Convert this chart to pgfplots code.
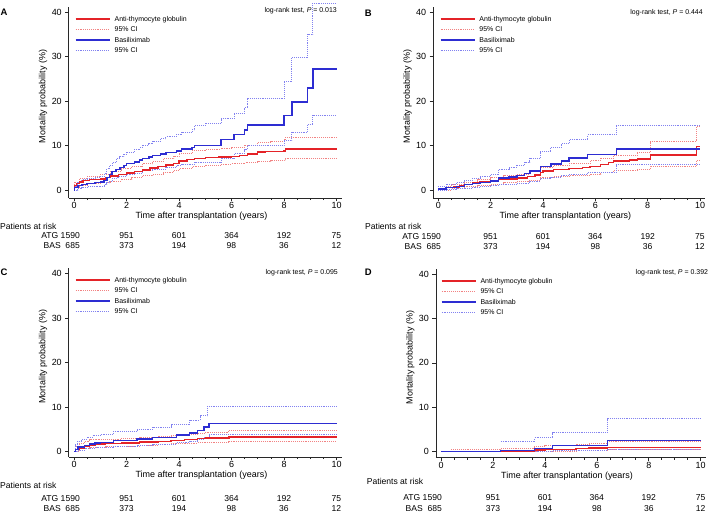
\documentclass[border=0pt]{standalone}
\usepackage{pgfplots}
\pgfplotsset{compat=1.18}
\usepackage{fontspec}
\setmainfont{Liberation Sans}
\definecolor{atg}{RGB}{228,35,40}
\definecolor{atgci}{RGB}{242,130,130}
\definecolor{bas}{RGB}{45,45,210}
\definecolor{basci}{RGB}{130,130,240}
\definecolor{axc}{RGB}{40,40,40}
\newcommand\fs{\fontsize{9}{10.5}\selectfont}
\newcommand\fr{\fontsize{8.6}{10}\selectfont}
\newcommand\fl{\fontsize{7}{8.4}\selectfont}
\pgfplotsset{
  atgl/.style={color=atg, line width=1.4bp, const plot},
  atgc/.style={color=atgci, line width=0.9bp, densely dotted, const plot},
  basl/.style={color=bas, line width=1.4bp, const plot},
  basc/.style={color=basci, line width=0.9bp, densely dotted, const plot},
  km/.style={
    scale only axis,
    axis x line=bottom, axis y line=left,
    axis line style={-, axc, line width=0.6bp},
    xmin=-0.2, xmax=10.2, ymin=-1.8, ymax=41.2,
    xtick={0,2,...,10}, minor x tick num=3, ytick={0,10,20,30,40},
    tick align=outside, major tick length=3.5bp, minor tick length=2.2bp,
    tick style={axc, line width=0.6bp},
    tick label style={font=\fs, text=black},
    xticklabel style={inner sep=0.6bp},
    /pgf/number format/assume math mode=true,
    xlabel={Time after transplantation (years)},
    ylabel={Mortality probability (\%)},
    label style={font=\fs, inner sep=0pt},
    xlabel style={at={(axis description cs:0.486,-0.097)}, anchor=center},
    ylabel style={at={(axis description cs:-0.094,0.53)}, anchor=center},
    clip=false,
    legend cell align=left,
    legend style={draw=none, fill=none, anchor=north west, inner sep=0pt, outer sep=0pt,
      font=\fl, row sep=0pt,
      nodes={inner sep=1.2bp, text height=6.3bp, text depth=1.8bp},
      /tikz/every odd column/.append style={column sep=3bp}},
    legend image code/.code={\draw[##1] (0bp,0bp) -- (34bp,0bp);},
  },
}
\newcommand\kmlegend{%
  \addlegendimage{atgl}\addlegendentry{Anti-thymocyte globulin}
  \addlegendimage{atgc}\addlegendentry{95\% CI}
  \addlegendimage{basl}\addlegendentry{Basiliximab}
  \addlegendimage{basc}\addlegendentry{95\% CI}}
\begin{document}
\begin{tikzpicture}
\path[use as bounding box] (0,0) rectangle (709bp,514bp);

% ---------------- Panel A ----------------
\begin{axis}[km, at={(68.75bp,316bp)}, anchor=south west, width=273bp, height=191.3bp,
  legend style={at={(0.023,0.964)}}]
\kmlegend
\addplot[atgc, forget plot] coordinates {(0,0) (0.03,1.8) (0.2,2.5) (0.5,3.0) (1.0,3.5) (1.4,4.2) (1.8,4.8) (2.2,5.3) (2.6,5.9) (3.0,6.5) (3.4,7.0) (3.8,7.6) (4.0,8.3) (4.5,8.8) (5.0,9.1) (5.6,9.4) (6.0,9.6) (6.5,10.1) (7.0,10.6) (7.5,10.8) (8.0,11.3) (8.05,11.8) (10,11.8)};
\addplot[atgc, forget plot] coordinates {(0,0) (0.03,0.5) (0.2,1.0) (0.5,1.4) (1.0,1.7) (1.4,2.0) (1.8,2.4) (2.2,2.8) (2.6,3.2) (3.0,3.5) (3.4,3.9) (3.8,4.4) (4.0,4.8) (4.5,5.3) (5.0,5.6) (5.6,5.8) (6.0,5.9) (6.5,6.2) (7.0,6.5) (7.5,6.6) (8.0,6.8) (8.05,7.2) (10,7.2)};
\addplot[basc, forget plot] coordinates {(0,0) (0.03,0.8) (0.15,1.8) (0.3,2.3) (0.5,2.6) (0.8,2.9) (1.0,3.1) (1.15,3.8) (1.25,4.8) (1.35,5.5) (1.45,6.2) (1.6,7.0) (1.75,7.6) (1.9,8.0) (2.0,8.5) (2.3,9.0) (2.5,9.5) (2.6,10.0) (2.85,10.5) (3.0,11.0) (3.3,11.5) (3.5,12.0) (3.9,12.5) (4.1,13.0) (4.5,13.5) (4.6,14.5) (5.0,15.0) (5.6,16.0) (6.1,17.3) (6.5,18.6) (6.6,20.5) (8.0,24.3) (8.3,29.8) (8.9,35.0) (9.1,42.0) (10,42.0)};
\addplot[basc, forget plot] coordinates {(0,0) (0.15,0.3) (0.3,0.5) (0.5,0.7) (1.0,0.9) (1.15,1.2) (1.25,1.6) (1.35,2.0) (1.45,2.5) (1.6,2.8) (1.75,3.1) (2.0,3.5) (2.3,3.8) (2.6,4.3) (3.0,4.7) (3.5,5.1) (3.9,5.5) (4.1,5.8) (4.6,6.3) (5.6,7.2) (6.1,8.2) (6.5,9.0) (6.6,10.0) (8.0,11.2) (8.3,13.0) (8.9,14.8) (9.1,16.8) (10,16.8)};
\addplot[atgl, forget plot] coordinates {(0,0) (0.03,1.0) (0.1,1.5) (0.2,1.8) (0.35,2.1) (0.6,2.3) (1.0,2.5) (1.2,2.8) (1.4,3.1) (1.7,3.5) (2.0,3.8) (2.3,4.1) (2.6,4.5) (2.9,4.9) (3.2,5.3) (3.5,5.6) (3.8,6.0) (4.0,6.5) (4.3,6.8) (4.6,7.1) (5.0,7.3) (5.5,7.4) (6.0,7.5) (6.3,7.8) (6.6,8.1) (7.0,8.5) (7.3,8.6) (8.0,8.8) (8.05,9.2) (10,9.2)};
\addplot[basl, forget plot] coordinates {(0,0) (0.03,0.5) (0.15,1.0) (0.3,1.3) (0.5,1.5) (0.8,1.7) (1.0,1.8) (1.15,2.2) (1.25,2.8) (1.35,3.5) (1.45,4.2) (1.6,4.6) (1.75,5.0) (1.9,5.5) (2.0,5.9) (2.3,6.3) (2.5,6.7) (2.6,7.1) (2.85,7.4) (3.0,7.8) (3.3,8.1) (3.5,8.4) (3.9,8.8) (4.1,9.2) (4.5,9.6) (4.6,10.0) (5.6,11.3) (6.1,12.5) (6.5,13.5) (6.6,14.6) (8.0,16.7) (8.3,19.8) (8.9,22.9) (9.1,27.2) (10,27.2)};
\node[anchor=east, font=\fl, inner sep=0pt] at (axis cs:10.02,40.2) {log-rank test, \textit{P} = 0.013};
\end{axis}

% ---------------- Panel B ----------------
\begin{axis}[km, at={(433.07bp,316bp)}, anchor=south west, width=272.2bp, height=191.3bp,
  legend style={at={(0.025,0.964)}}]
\kmlegend
\addplot[atgc, forget plot] coordinates {(0,0.8) (0.5,1.2) (1.0,1.8) (1.5,2.3) (2.0,2.8) (2.5,3.2) (3.0,3.6) (3.5,4.3) (3.9,5.0) (4.4,5.5) (5.0,6.0) (5.8,6.6) (6.2,7.2) (6.7,7.8) (7.6,8.5) (8.1,10.8) (9.87,14.3) (10,14.3)};
\addplot[atgc, forget plot] coordinates {(0,0) (0.5,0.3) (1.0,0.7) (1.5,1.0) (2.0,1.3) (2.5,1.6) (3.0,1.9) (3.5,2.2) (3.9,2.8) (4.4,3.0) (5.0,3.3) (5.8,3.6) (6.2,3.9) (6.7,4.3) (7.6,4.7) (8.1,5.4) (9.87,6.6) (10,6.6)};
\addplot[basc, forget plot] coordinates {(0,0.8) (0.3,1.3) (0.7,1.7) (1.0,2.2) (1.3,2.6) (1.6,3.0) (2.0,3.4) (2.3,4.7) (2.7,5.0) (3.0,5.6) (3.3,6.3) (3.5,7.2) (3.9,8.6) (4.3,9.5) (4.7,10.5) (5.0,11.3) (5.7,12.4) (6.8,14.6) (10,14.6)};
\addplot[basc, forget plot] coordinates {(0,0) (0.3,0.1) (0.7,0.3) (1.0,0.4) (1.3,0.6) (1.6,0.8) (2.0,1.0) (2.3,1.3) (3.0,1.5) (3.5,2.0) (3.9,2.5) (4.3,2.9) (4.7,3.2) (5.0,3.5) (5.7,3.9) (6.8,5.7) (10,5.7)};
\addplot[atgl, forget plot] coordinates {(0,0.3) (0.3,0.5) (0.6,0.7) (0.8,1.0) (1.0,1.3) (1.3,1.6) (1.6,1.8) (2.0,2.0) (2.3,2.3) (2.6,2.5) (3.0,2.7) (3.4,3.0) (3.7,3.4) (3.9,3.9) (4.0,4.3) (4.4,4.6) (5.0,4.8) (5.5,5.0) (5.8,5.3) (6.2,5.7) (6.5,6.2) (6.7,6.5) (7.3,6.7) (7.6,7.0) (8.1,7.9) (9.87,9.8) (10,9.8)};
\addplot[basl, forget plot] coordinates {(0,0.2) (0.3,0.5) (0.7,0.8) (1.0,1.2) (1.3,1.5) (1.6,1.7) (2.0,2.0) (2.3,2.7) (2.7,2.9) (3.0,3.2) (3.3,3.7) (3.5,4.3) (3.9,5.3) (4.3,5.8) (4.7,6.5) (5.0,7.2) (5.7,8.0) (6.8,9.2) (10,9.2)};
\node[anchor=east, font=\fl, inner sep=0pt] at (axis cs:10.11,39.8) {log-rank test, \textit{P} = 0.444};
\end{axis}

% ---------------- Panel C ----------------
\begin{axis}[km, at={(68.75bp,57.16bp)}, anchor=south west, width=273bp, height=188.7bp,
  ymin=-1.2, legend style={at={(0.023,0.965)}}]
\kmlegend
\addplot[atgc, forget plot] coordinates {(0,0) (0.05,1.2) (0.2,1.8) (0.4,2.3) (0.6,2.6) (0.8,2.8) (1.8,3.0) (2.5,3.2) (3.2,3.4) (3.7,3.7) (4.2,3.9) (4.7,4.1) (5.0,4.3) (5.9,4.7) (10,4.7)};
\addplot[atgc, forget plot] coordinates {(0,0) (0.2,0.3) (0.4,0.6) (0.6,0.8) (0.8,1.0) (1.2,1.1) (1.8,1.2) (2.5,1.4) (3.2,1.6) (3.7,1.7) (4.2,1.9) (4.7,2.0) (5.0,2.1) (5.9,2.3) (10,2.3)};
\addplot[basc, forget plot] coordinates {(0,0) (0.05,1.5) (0.15,2.3) (0.3,2.8) (0.5,3.2) (0.7,3.5) (1.0,3.8) (1.5,4.5) (2.4,5.0) (3.0,5.5) (3.7,6.0) (4.4,7.0) (4.8,8.0) (5.1,10.2) (10,10.2)};
\addplot[basc, forget plot] coordinates {(0,0) (0.15,0.3) (0.4,0.6) (0.8,0.9) (1.5,1.1) (2.4,1.3) (3.0,1.6) (3.9,2.0) (4.4,2.3) (4.7,2.6) (4.95,3.1) (5.15,3.8) (10,3.8)};
\addplot[atgl, forget plot] coordinates {(0,0) (0.05,0.5) (0.2,0.8) (0.4,1.2) (0.6,1.5) (0.8,1.7) (1.2,1.8) (1.8,1.9) (2.5,2.1) (3.2,2.3) (3.7,2.5) (4.2,2.7) (4.7,2.9) (5.0,3.0) (5.9,3.3) (10,3.3)};
\addplot[basl, forget plot] coordinates {(0,0) (0.05,0.5) (0.15,1.0) (0.4,1.4) (0.6,1.7) (0.8,1.9) (1.0,2.0) (1.5,2.5) (2.4,2.8) (3.0,3.2) (3.9,3.7) (4.4,4.2) (4.7,4.7) (4.95,5.5) (5.15,6.3) (10,6.3)};
\node[anchor=east, font=\fl, inner sep=0pt] at (axis cs:10.06,40.2) {log-rank test, \textit{P} = 0.095};
\end{axis}

% ---------------- Panel D ----------------
\begin{axis}[km, at={(435.8bp,56.3bp)}, anchor=south west, width=270.1bp, height=189bp,
  ymin=-1.35, legend style={at={(0.019,0.963)}}]
\kmlegend
\addplot[atgc, forget plot] coordinates {(0.4,0.5) (2.3,0.8) (3.6,1.1) (4.0,1.3) (5.2,1.6) (5.7,1.9) (6.4,2.2) (10,2.2)};
\addplot[atgc, forget plot] coordinates {(0.4,0) (2.3,0.05) (3.6,0.1) (5.2,0.2) (6.4,0.4) (10,0.4)};
\addplot[basc, forget plot] coordinates {(2.3,2.2) (3.6,3.1) (4.3,4.3) (6.4,7.4) (10,7.4)};
\addplot[basc, forget plot] coordinates {(2.3,0) (3.6,0.05) (4.3,0.2) (6.4,0.6) (10,0.6)};
\addplot[atgl, forget plot] coordinates {(0,0) (2.3,0.2) (3.6,0.4) (4.0,0.5) (5.2,0.7) (5.7,0.8) (6.4,1.0) (10,1.0)};
\addplot[basl, forget plot] coordinates {(0,0) (2.3,0.3) (3.6,0.7) (4.3,1.4) (6.4,2.5) (10,2.5)};
\node[anchor=east, font=\fl, inner sep=0pt] at (axis cs:10.29,40.2) {log-rank test, \textit{P} = 0.392};
\end{axis}

% ---------------- letters and risk tables (pixel frame, y downward) ----------------
\begin{scope}[shift={(0,514bp)}, x=1bp, y=-1bp, every node/.style={font=\fr, inner sep=0pt}]
\node[font=\fontsize{9.5}{11}\selectfont\bfseries] at (4,12.7) {A};
\node[font=\fontsize{9.5}{11}\selectfont\bfseries] at (368.3,13.3) {B};
\node[font=\fontsize{9.5}{11}\selectfont\bfseries] at (4,272) {C};
\node[font=\fontsize{9.5}{11}\selectfont\bfseries] at (368.3,272.3) {D};
% A
\node[anchor=west] at (0,226.5) {Patients at risk};
\node[anchor=east] at (80,235.7) {ATG 1590};
\node[anchor=east] at (80,245.7) {BAS\ \ 685};
\foreach \xp/\a/\b in {126.5/951/373, 179/601/194, 231.5/364/98, 284/192/36, 336.5/75/12}{
  \node at (\xp,235.7) {\a}; \node at (\xp,245.7) {\b};}
% B
\node[anchor=west] at (365,226.7) {Patients at risk};
\node[anchor=east] at (441,237) {ATG 1590};
\node[anchor=east] at (441,246.7) {BAS\ \ 685};
\foreach \xp/\a/\b in {490.6/951/373, 543/601/194, 595.3/364/98, 647.7/192/36, 700/75/12}{
  \node at (\xp,237) {\a}; \node at (\xp,246.7) {\b};}
% C
\node[anchor=west] at (0,485.5) {Patients at risk};
\node[anchor=east] at (80,498.5) {ATG 1590};
\node[anchor=east] at (80,508.5) {BAS\ \ 685};
\foreach \xp/\a/\b in {126.5/951/373, 179/601/194, 231.5/364/98, 284/192/36, 336.5/75/12}{
  \node at (\xp,498.5) {\a}; \node at (\xp,508.5) {\b};}
% D
\node[anchor=west] at (366.7,481.3) {Patients at risk};
\node[anchor=east] at (442,498) {ATG 1590};
\node[anchor=east] at (442,508.3) {BAS\ \ 685};
\foreach \xp/\a/\b in {492.9/951/373, 544.9/601/194, 596.8/364/98, 648.8/192/36, 700.7/75/12}{
  \node at (\xp,498) {\a}; \node at (\xp,508.3) {\b};}
\end{scope}
\end{tikzpicture}
\end{document}
